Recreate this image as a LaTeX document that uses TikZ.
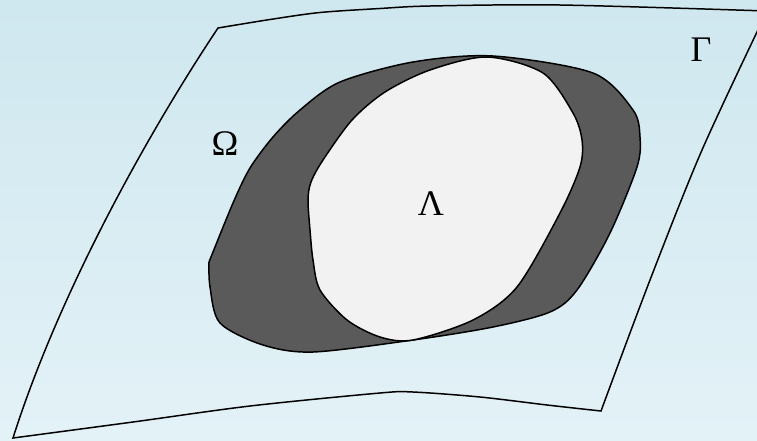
\documentclass[tikz,border=0pt]{standalone}
\usepackage{fontspec}
\setmainfont{Liberation Serif}
\begin{document}
\begin{tikzpicture}[x=0.02cm,y=-0.02cm,
    region/.style={draw=borderColour, line width=0.85pt, line join=round},
    greekLabel/.style={inner sep=0pt, font=\fontsize{20.5}{24}\selectfont}]
    \definecolor{borderColour}{HTML}{000000}
    \definecolor{outerColour}{HTML}{5A5A5A}
    \definecolor{innerColour}{HTML}{F2F2F2}
    \definecolor{skyTop}{HTML}{CFE7EF}
    \definecolor{skyBottom}{HTML}{E3F2F7}

    \def\picWidth{757}
    \def\picHeight{440}

    % Draw background
    \useasboundingbox (0,0) rectangle (\picWidth,\picHeight);
    \clip (0,0) rectangle (\picWidth,\picHeight);
    \shade[top color=skyTop, bottom color=skyBottom] (0,0) rectangle (\picWidth,\picHeight);

    % Surface Gamma: bent sheet with corners (13,438), (218,28), (767,11), (601,411)
    \coordinate (G1) at (13,438);
    \coordinate (G2) at (218,28);
    \coordinate (G3) at (767,11);
    \coordinate (G4) at (601,411);
    \draw[region, line join=miter]
        (G1) .. controls (60,290) and (150,130) .. (G2)
        -- plot[smooth] coordinates {(218,28) (270,19.5) (320,12.5) (380,8.5) (430,6) (560,5) (767,11)}
        -- plot[smooth] coordinates {(767,11) (702,150) (650,280) (601,411)}
        -- plot[smooth] coordinates {(601,411) (547,405) (480,397) (413,392) (380,393) (250,406) (133,422) (13,438)}
        -- cycle;

    % Region Omega: dark blob, one corner at (209,262)
    \filldraw[region, fill=outerColour]
        plot[smooth, tension=0.5] coordinates {(209,262) (233,203) (250,168) (273,137) (300,110) (340,82)
            (413,62) (493,56) (593,73) (633,110) (640,137) (637,167) (610,233) (577,290) (550,312)
            (493,327) (413,340) (313,352) (263,345) (220,323) (210,287) (209,262)}
        -- cycle;

    % Region Lambda: light blob inside Omega
    \filldraw[region, fill=innerColour]
        plot[smooth cycle, tension=0.5] coordinates {(487,57) (543,73) (573,113) (582,140) (580,167)
            (560,213) (517,287) (473,320) (413,340) (380,337) (347,320) (320,290) (313,260) (310,230)
            (308,200) (311,182) (323,160) (352,120) (385,92) (430,70)};

    % Labels
    \node[greekLabel] (gamma) at (701,50) {Γ};
    \node[greekLabel] (omega) at (225,144) {Ω};
    \node[greekLabel] (lambda) at (431,204) {Λ};

\end{tikzpicture}
\end{document}
